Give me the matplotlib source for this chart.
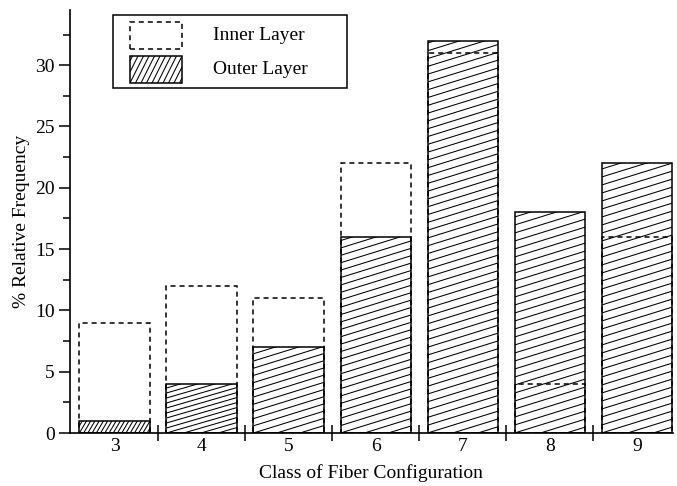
import matplotlib
matplotlib.use("Agg")
import matplotlib.pyplot as plt
import numpy as np
from matplotlib.patches import Rectangle
from matplotlib.collections import LineCollection
from matplotlib.transforms import Affine2D
from matplotlib.ticker import MultipleLocator

# ---- data ----
classes = [3, 4, 5, 6, 7, 8, 9]
inner_layer = [9, 12, 11, 22, 31, 4, 16]
outer_layer = [1, 4, 7, 16, 32, 18, 22]
y_ticks = [0, 5, 10, 15, 20, 25, 30]
series_labels = ["Inner Layer", "Outer Layer"]
x_label = "Class of Fiber Configuration"
y_label = "% Relative Frequency"

# ---- hatch style per bar (pixel slope, vertical gap in px) ----
hatch_slope = [1.7, 0.29, 0.31, 0.31, 0.31, 0.31, 0.31]
hatch_gap = [7.2, 5.0, 7.2, 7.4, 7.8, 8.0, 8.0]

W, H, DPI = 677, 486, 100
FS = 14
plt.rcParams['font.family'] = ['Liberation Serif', 'DejaVu Serif']

fig = plt.figure(figsize=(W / DPI, H / DPI), dpi=DPI)
ax = fig.add_axes([70 / W, (H - 433) / H, 602.5 / W, 423 / H])
ax.set_xlim(2.486, 9.408)
ax.set_ylim(0, 34.5)

BAR_W = 0.812
EDGE_LW = 1.1
HATCH_LW = 0.75
DASH = (0, (3.3, 2.6))


def hatch_lines(x0, y0, x1, y1, slope, gap):
    w = x1 - x0
    h = y1 - y0
    kmin = int(np.floor(-slope * w / gap)) - 1
    kmax = int(np.ceil(h / gap)) + 1
    segs = []
    for k in range(kmin, kmax + 1):
        ys = y0 + k * gap
        segs.append([(x0, ys), (x1, ys + slope * w)])
    return np.array(segs, dtype=float)


# outer layer bars (hatched)
outer_bars = ax.bar(classes, outer_layer, width=BAR_W, facecolor='white',
                    edgecolor='none', linewidth=0, zorder=2)
inv = ax.transData.inverted()
for bar, s, g in zip(outer_bars, hatch_slope, hatch_gap):
    (px0, py0), (px1, py1) = ax.transData.transform(
        [(bar.get_x(), bar.get_y()),
         (bar.get_x() + bar.get_width(), bar.get_y() + bar.get_height())])
    segs = hatch_lines(px0, py0, px1, py1, s, g)
    segs_d = inv.transform(segs.reshape(-1, 2)).reshape(segs.shape)
    lc = LineCollection(segs_d, colors='black', linewidths=HATCH_LW, zorder=2.5)
    ax.add_collection(lc, autolim=False)
    lc.set_clip_path(bar)
ax.bar(classes, outer_layer, width=BAR_W, fill=False, edgecolor='black',
       linewidth=EDGE_LW, zorder=2.6)

# inner layer bars (dashed outline)
ax.bar(classes, inner_layer, width=BAR_W, fill=False, edgecolor='black',
       linewidth=EDGE_LW, linestyle=DASH, zorder=3)

# ---- axes styling ----
for side in ['top', 'right']:
    ax.spines[side].set_visible(False)
for side in ['left', 'bottom']:
    ax.spines[side].set_linewidth(1.2)

ax.set_yticks(y_ticks)
ax.yaxis.set_minor_locator(MultipleLocator(2.5))
ax.tick_params(axis='y', which='major', direction='out', length=8, width=1.1,
               labelsize=FS, pad=3)
ax.tick_params(axis='y', which='minor', direction='out', length=5, width=1.1)

bounds = np.array(classes[:-1]) + 0.5
ax.set_xticks(bounds)
ax.set_xticklabels([])
ax.set_xticks(classes, minor=True)
ax.set_xticklabels([str(c) for c in classes], minor=True)
ax.tick_params(axis='x', which='major', direction='inout', length=11, width=1.1)
ax.tick_params(axis='x', which='minor', length=0, labelsize=FS, pad=3.5)

ax.set_xlabel(x_label, fontsize=FS, labelpad=7)
ax.set_ylabel(y_label, fontsize=FS, labelpad=4)

# ---- legend (manual, pixel layout, y from top) ----
PX = Affine2D().scale(1 / W, 1 / H) + fig.transFigure


def px_rect(x0, ytop, x1, ybot, **kw):
    return Rectangle((x0, H - ybot), x1 - x0, ybot - ytop, transform=PX, **kw)


frame = px_rect(113, 15, 347, 88, fill=True, facecolor='white',
                edgecolor='black', linewidth=1.1, zorder=5)
fig.add_artist(frame)
h1 = px_rect(130, 22, 182, 49, fill=False, edgecolor='black',
             linewidth=EDGE_LW, linestyle=DASH, zorder=6)
fig.add_artist(h1)
h2 = px_rect(130, 56, 182, 83, fill=False, edgecolor='black',
             linewidth=EDGE_LW, zorder=6.5)
fig.add_artist(h2)
segs = hatch_lines(130, H - 83, 182, H - 56, 2.0, 11.0)
lc = LineCollection(segs, colors='black', linewidths=HATCH_LW, transform=PX,
                    zorder=6)
fig.add_artist(lc)
lc.set_clip_path(h2)
fig.text(213 / W, 1 - 35.5 / H, series_labels[0], fontsize=FS,
         va='center', ha='left', zorder=7)
fig.text(213 / W, 1 - 69.5 / H, series_labels[1], fontsize=FS,
         va='center', ha='left', zorder=7)

fig.savefig("out.png", dpi=DPI)
